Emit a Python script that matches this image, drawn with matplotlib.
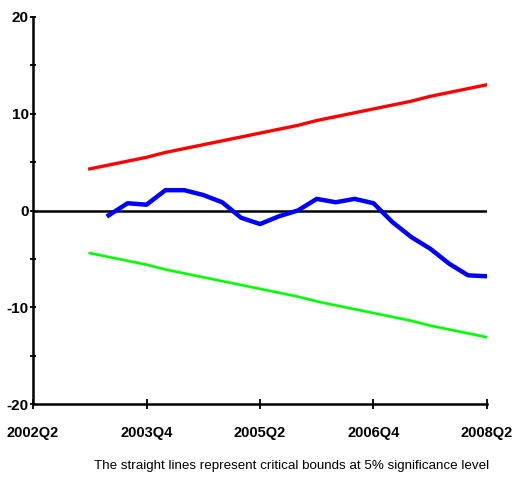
import matplotlib
matplotlib.use("Agg")
import matplotlib.pyplot as plt
from matplotlib.ticker import MultipleLocator

# quarter index: 0 = 2002Q2 ... 24 = 2008Q2
tick_pos = [0, 6, 12, 18, 24]
tick_labels = ["2002Q2", "2003Q4", "2005Q2", "2006Q4", "2008Q2"]

# CUSUM statistic, 2003Q2 .. 2008Q2
cusum_q = list(range(4, 25))
cusum = [-0.5, 0.75, 0.6, 2.1, 2.1, 1.6, 0.85, -0.75, -1.4, -0.6, 0.0,
         1.2, 0.85, 1.2, 0.75, -1.2, -2.75, -3.95, -5.5, -6.7, -6.8]

# 5% critical bounds, 2003Q1 .. 2008Q2
bound_q = list(range(3, 25))
upper = [4.3, 4.7, 5.1, 5.5, 6.0, 6.4, 6.8, 7.2, 7.6, 8.0, 8.4,
         8.8, 9.3, 9.7, 10.1, 10.5, 10.9, 11.3, 11.8, 12.2, 12.6, 13.0]
lower = [-4.4, -4.8, -5.2, -5.6, -6.1, -6.5, -6.9, -7.3, -7.7, -8.1, -8.5,
         -8.9, -9.4, -9.8, -10.2, -10.6, -11.0, -11.4, -11.9, -12.3, -12.7, -13.1]

plt.rcParams['font.family'] = ['Liberation Sans', 'DejaVu Sans']
plt.rcParams['axes.unicode_minus'] = False

fig = plt.figure(figsize=(5.19, 4.8), dpi=100)
ax = fig.add_axes([33/519, 76/480, 454/519, 387/480])

ax.axhline(0, color="black", lw=1.8, zorder=1)
ax.plot(bound_q, upper, color="#ff0000", lw=2.4, zorder=2)
ax.plot(bound_q, lower, color="#00ff00", lw=1.9, zorder=2)
ax.plot(cusum_q, cusum, color="#0000ff", lw=3.2, zorder=3)

ax.set_xlim(0, 24)
ax.set_ylim(-20, 20)
ax.set_xticks(tick_pos)
ax.set_xticklabels(tick_labels)
ax.set_yticks([-20, -10, 0, 10, 20])
ax.yaxis.set_minor_locator(MultipleLocator(5))

for s in ["top", "right"]:
    ax.spines[s].set_visible(False)
for s in ["left", "bottom"]:
    ax.spines[s].set_linewidth(1.8)
    ax.spines[s].set_color("black")

ax.tick_params(axis="x", direction="inout", length=7, width=1.3, pad=12,
               labelsize=10.5)
ax.tick_params(axis="y", which="both", direction="inout", length=4, width=1.3,
               pad=1, labelsize=11)
for lab in ax.get_xticklabels() + ax.get_yticklabels():
    lab.set_fontweight("bold")

fig.text(292/519, 14/480, "The straight lines represent critical bounds at 5% significance level",
         ha="center", va="center", fontsize=9.6)

fig.savefig("out.png", dpi=100)
